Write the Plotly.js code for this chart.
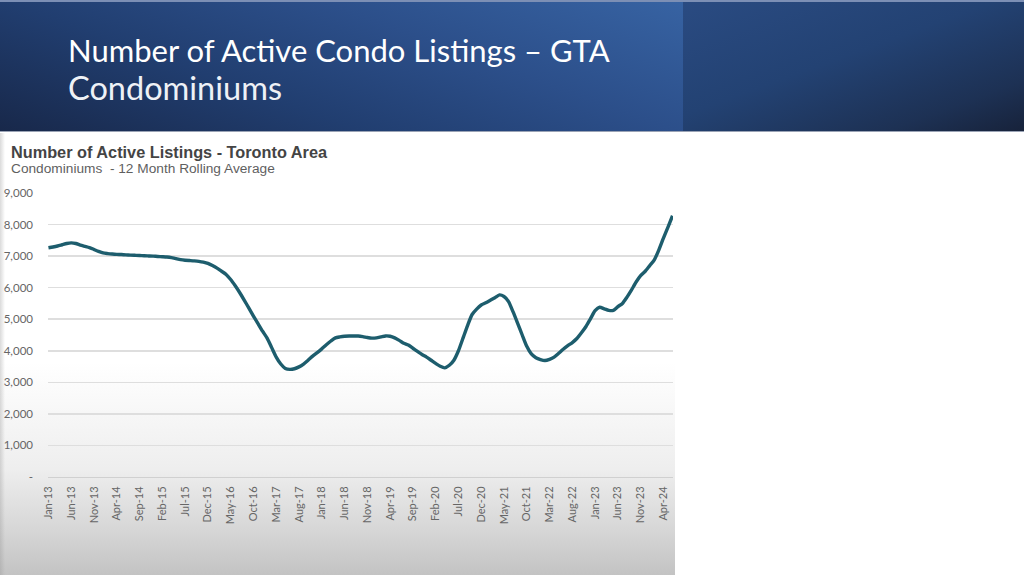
<!DOCTYPE html>
<html>
<head>
<meta charset="utf-8">
<script src="https://cdn.plot.ly/plotly-3.0.1.min.js"></script>
<style>
  html, body { margin:0; padding:0; width:1024px; height:575px; overflow:hidden; background:#ffffff; }
  #hdrL { position:absolute; left:0; top:0; width:683px; height:132px;
          background: linear-gradient(200deg, #3763a3 0%, #2c4f8a 35%, #213e70 65%, #18284a 100%); }
  #hdrR { position:absolute; left:683px; top:0; width:341px; height:132px;
          background: linear-gradient(160deg, #2a4b82 0%, #234273 45%, #1d3154 80%, #17223a 100%); }
  #hdrTop { position:absolute; left:0; top:0; width:1024px; height:2px; background:#7c8fb5; }
  #hdrBot { position:absolute; left:0; top:131px; width:1024px; height:1px; background:#9aa3b5; }
  #chartBg { position:absolute; left:0; top:133px; width:675px; height:442px;
          background: linear-gradient(to bottom, #ffffff 0%, #ffffff 52%, #eeeeee 76%, #d6d6d6 90%, #c3c3c3 100%); }
  #chartEdge { position:absolute; left:0; top:133px; width:5px; height:442px;
          background: linear-gradient(to right, rgba(150,150,150,0.35), rgba(150,150,150,0)); }
  #plot { position:absolute; left:0; top:0; width:1024px; height:575px; }
</style>
</head>
<body>
<div id="hdrL"></div>
<div id="hdrR"></div>
<div id="hdrTop"></div>
<div id="hdrBot"></div>
<div id="chartBg"></div>
<div id="chartEdge"></div>
<div id="plot"></div>
<script>
// ---- data ----
const monthNames = ['Jan','Feb','Mar','Apr','May','Jun','Jul','Aug','Sep','Oct','Nov','Dec'];
const years = [13,14,15,16,17,18,19,20,21,22,23,24];
const months = [];
years.forEach(y => monthNames.forEach(m => months.push(m + '-' + y)));
const categories = months.slice(0, 138); // Jan-13 .. Jun-24

const activeListings = [
  7265,7290,7320,7360,7400,7420,7400,7350,7310,7270,7210,7150,   // 2013
  7100,7080,7065,7055,7050,7040,7030,7025,7020,7010,7005,7000,   // 2014
  6990,6980,6970,6950,6920,6890,6870,6860,6850,6835,6810,6770,   // 2015
  6700,6620,6520,6420,6260,6060,5840,5600,5350,5100,4860,4620,   // 2016
  4400,4100,3800,3580,3440,3410,3430,3490,3580,3700,3830,3940,   // 2017
  4060,4190,4310,4410,4440,4460,4470,4470,4470,4450,4420,4400,   // 2018
  4410,4440,4470,4460,4410,4330,4240,4180,4080,3980,3880,3800,   // 2019
  3700,3600,3510,3460,3540,3700,4000,4400,4800,5150,5320,5450,   // 2020
  5520,5600,5680,5770,5720,5560,5230,4870,4500,4140,3900,3780,   // 2021
  3720,3690,3730,3800,3920,4050,4160,4260,4390,4570,4770,5020,   // 2022
  5270,5380,5330,5280,5280,5400,5500,5700,5930,6180,6380,6520,   // 2023
  6700,6880,7200,7570,7920,8280                                  // 2024
];

const yTickVals = [0,1000,2000,3000,4000,5000,6000,7000,8000,9000];
const yTickText = ['-','1,000','2,000','3,000','4,000','5,000','6,000','7,000','8,000','9,000'];
const xTickVals = categories.filter((c, i) => i % 5 === 0);

const headerTitle = 'Number of Active Condo Listings – GTA';
const headerSubtitle = 'Condominiums';
const chartTitle = 'Number of Active Listings - Toronto Area';
const chartSubtitle = 'Condominiums  - 12 Month Rolling Average';

// ---- layout geometry ----
const W = 1024, H = 575;
const L = 48, R = 673, T = 193, B = 477.4;
const px = x => (x - L) / (R - L);
const py = y => (B - y) / (B - T);

const trace = {
  x: categories,
  y: activeListings,
  type: 'scatter',
  mode: 'lines',
  line: { color: '#1d5d6d', width: 3.4, shape: 'spline', smoothing: 0.6 },
  hoverinfo: 'skip'
};

const layout = {
  width: W, height: H,
  margin: { l: L, r: W - R, t: T, b: H - B, pad: 0 },
  paper_bgcolor: 'rgba(0,0,0,0)',
  plot_bgcolor: 'rgba(0,0,0,0)',
  showlegend: false,
  xaxis: {
    type: 'category',
    categoryorder: 'array', categoryarray: categories,
    range: [-0.1, 137.1],
    tickmode: 'array', tickvals: xTickVals, ticktext: xTickVals,
    tickangle: -90,
    tickfont: { family: 'Lato, "Liberation Sans", sans-serif', size: 11, color: '#666666' },
    showgrid: false, zeroline: false,
    showline: true, linecolor: '#d0d0d0', linewidth: 1,
    ticks: '', ticklabelstandoff: 4
  },
  yaxis: {
    range: [0, 9000],
    tickmode: 'array', tickvals: yTickVals, ticktext: yTickText,
    tickfont: { family: 'Lato, "Liberation Sans", sans-serif', size: 11.5, color: '#666666' },
    showgrid: true, gridcolor: '#dedede', gridwidth: 1.5,
    zeroline: false, showline: false, ticks: '',
    ticklabelstandoff: 14
  },
  annotations: [
    { text: headerTitle, xref: 'paper', yref: 'paper', x: px(66), y: py(50),
      xanchor: 'left', yanchor: 'middle', showarrow: false,
      font: { family: 'Lato, "Open Sans", sans-serif', size: 31, color: '#ffffff' } },
    { text: headerSubtitle, xref: 'paper', yref: 'paper', x: px(66), y: py(87),
      xanchor: 'left', yanchor: 'middle', showarrow: false,
      font: { family: 'Lato, "Open Sans", sans-serif', size: 32.5, color: '#eef1f6' } },
    { text: '<b>' + chartTitle + '</b>', xref: 'paper', yref: 'paper', x: px(9), y: py(152),
      xanchor: 'left', yanchor: 'middle', showarrow: false,
      font: { family: '"Liberation Sans", Arial, sans-serif', size: 16.3, color: '#444444' } },
    { text: chartSubtitle, xref: 'paper', yref: 'paper', x: px(9), y: py(168.5),
      xanchor: 'left', yanchor: 'middle', showarrow: false,
      font: { family: '"Liberation Sans", Arial, sans-serif', size: 13.7, color: '#5f5f5f' } }
  ]
};

Plotly.newPlot('plot', [trace], layout, { staticPlot: true, displayModeBar: false });
</script>
</body>
</html>
